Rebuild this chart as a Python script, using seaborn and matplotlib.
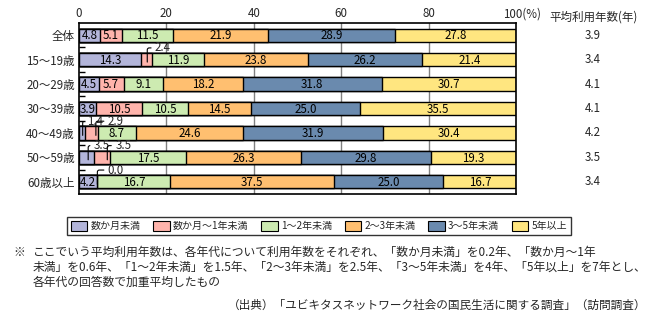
import numpy as np
import pandas as pd
import matplotlib
matplotlib.use("Agg")
import matplotlib.pyplot as plt
from matplotlib.patches import Patch
import seaborn as sns

# --- data -------------------------------------------------------------
categories = ["全体", "15～19歳", "20～29歳", "30～39歳", "40～49歳", "50～59歳", "60歳以上"]
series_names = ["数か月未満", "数か月～1年未満", "1～2年未満", "2～3年未満", "3～5年未満", "5年以上"]
v_few_months = [4.8, 14.3, 4.5, 3.9, 1.4, 3.5, 4.2]
v_months_1y = [5.1, 2.4, 5.7, 10.5, 2.9, 3.5, 0.0]
v_1_2y = [11.5, 11.9, 9.1, 10.5, 8.7, 17.5, 16.7]
v_2_3y = [21.9, 23.8, 18.2, 14.5, 24.6, 26.3, 37.5]
v_3_5y = [28.9, 26.2, 31.8, 25.0, 31.9, 29.8, 25.0]
v_5y_plus = [27.8, 21.4, 30.7, 35.5, 30.4, 19.3, 16.7]
avg_years = ["3.9", "3.4", "4.1", "4.1", "4.2", "3.5", "3.4"]
x_ticks = [0, 20, 40, 60, 80]

colors = ["#B3B5DA", "#FFB4AC", "#CDEBB1", "#FFBF70", "#6A8AAE", "#FFE680"]

sns.set_theme(style="white")
plt.rcParams["font.family"] = ["Noto Sans CJK JP", "DejaVu Sans"]

values = np.array([v_few_months, v_months_1y, v_1_2y, v_2_3y, v_3_5y, v_5y_plus])
cum = np.cumsum(values, axis=0)
starts = cum - values

fig = plt.figure(figsize=(6.53, 3.27), dpi=100)
ax = fig.add_axes([79 / 653, 1 - 194 / 327, (516 - 79) / 653, 171 / 327])

# gridlines behind bars
for gx in [20, 40, 60, 80]:
    ax.axvline(gx, color="#808080", lw=1.0, zorder=0)

# stacked bars: draw cumulative totals from the last series to the first
for k in range(len(series_names) - 1, -1, -1):
    df = pd.DataFrame({"cat": categories, "end": cum[k]})
    sns.barplot(data=df, x="end", y="cat", orient="h", color=colors[k],
                saturation=1, width=0.54, edgecolor="black", linewidth=1.0,
                ax=ax, zorder=2)

ax.set_xlim(0, 100)
ax.set_ylim(6.5, -0.5)
ax.set_xlabel("")
ax.set_ylabel("")

# value labels inside segments
small = {(1, 1), (4, 0), (4, 1), (5, 0), (5, 1), (6, 1)}
for i in range(len(categories)):
    for k in range(len(series_names)):
        if (i, k) in small:
            continue
        xc = starts[k, i] + values[k, i] / 2
        ax.text(xc, i + 0.03, f"{values[k, i]:.1f}", ha="center", va="center",
                fontsize=8.3, color="black", zorder=5)

# leader-line labels for narrow segments: (row, series, text x, anchor fraction)
leaders = [(1, 1, 17.4, 0.55), (4, 0, 1.9, 0.6), (4, 1, 6.6, 0.85),
           (5, 0, 3.4, 0.6), (5, 1, 8.3, 0.85), (6, 1, 6.6, 0.5)]
for i, k, tx, frac in leaders:
    xa = starts[k, i] + values[k, i] * frac
    ax.annotate(f"{values[k, i]:.1f}", xy=(xa, i + 0.1), xytext=(tx, i - 0.48),
                ha="left", va="center", fontsize=8.3, zorder=6,
                arrowprops=dict(arrowstyle="-", lw=0.8, color="black",
                                shrinkA=0.5, shrinkB=0,
                                connectionstyle="angle,angleA=0,angleB=90,rad=2"))

# axis styling
ax.xaxis.tick_top()
ax.set_xticks(x_ticks)
ax.set_xticklabels([str(t) for t in x_ticks])
ax.tick_params(axis="x", length=0, pad=2, labelsize=8.3)
ax.set_yticks(range(len(categories)))
ax.set_yticklabels(categories)
ax.tick_params(axis="y", length=0, pad=3, labelsize=8.3)
ax.set_yticks(np.arange(0.5, 6.5, 1.0), minor=True)
ax.tick_params(axis="y", which="minor", left=True, direction="in",
               length=4.5, width=1.0, color="black")
for sp in ax.spines.values():
    sp.set_visible(True)
    sp.set_color("black")
    sp.set_linewidth(1.2)

ax.annotate("100(%)", xy=(100, 1), xycoords=("data", "axes fraction"),
            xytext=(-9.5, 2), textcoords="offset points", ha="left", va="bottom",
            fontsize=8.3)

# average years column
fig.text(593 / 653, 1 - 17 / 327, "平均利用年数(年)", ha="center", va="center", fontsize=8.3)
for i, a in enumerate(avg_years):
    ax.annotate(a, xy=(1, i), xycoords=("axes fraction", "data"),
                xytext=(77, 0), textcoords="offset pixels",
                ha="center", va="center", fontsize=8.3)

# legend
handles = [Patch(facecolor=c, edgecolor="black", linewidth=0.8) for c in colors]
leg = fig.legend(handles, series_names, loc="center", ncol=6,
                 bbox_to_anchor=(319 / 653, 1 - 226 / 327), fontsize=7.2,
                 frameon=True, fancybox=False, handlelength=1.65, handleheight=1.1,
                 handletextpad=0.35, columnspacing=1.25, borderpad=0.35)
leg.get_frame().set_edgecolor("black")
leg.get_frame().set_linewidth(1.0)

# footnotes
fig.text(13 / 653, 1 - 252 / 327, "※", ha="left", va="center", fontsize=8.5)
notes = [
    "ここでいう平均利用年数は、各年代について利用年数をそれぞれ、「数か月未満」を0.2年、「数か月～1年",
    "未満」を0.6年、「1～2年未満」を1.5年、「2～3年未満」を2.5年、「3～5年未満」を4年、「5年以上」を7年とし、",
    "各年代の回答数で加重平均したもの",
]
for j, line in enumerate(notes):
    fig.text(33 / 653, 1 - (252 + 15 * j) / 327, line, ha="left", va="center", fontsize=8.5)
fig.text(646 / 653, 1 - 305 / 327, "（出典）「ユビキタスネットワーク社会の国民生活に関する調査」（訪問調査）",
         ha="right", va="center", fontsize=8.4)

fig.savefig("out.png", dpi=100)
